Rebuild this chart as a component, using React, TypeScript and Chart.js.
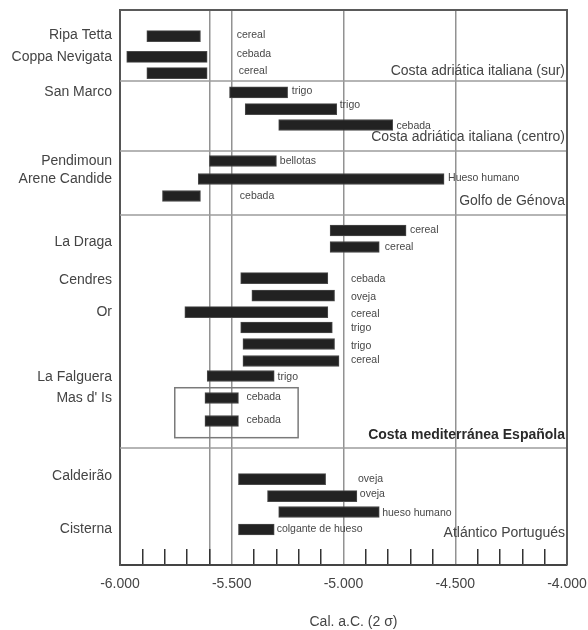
import React, { useEffect, useRef } from 'react';
import { Chart, registerables } from 'chart.js';

Chart.register(...registerables);

const FONT = "'Liberation Sans', Arial, Helvetica, sans-serif";

// Site names (left axis) and their row positions (row units, top = 0)
const siteNames = ['Ripa Tetta', 'Coppa Nevigata', 'San Marco', 'Pendimoun', 'Arene Candide', 'La Draga', 'Cendres', 'Or', 'La Falguera', "Mas d' Is", 'Caldeirão', 'Cisterna'];
const siteRow = [1.49, 2.79, 4.88, 8.98, 10.05, 13.8, 16.05, 17.96, 21.82, 23.07, 27.71, 30.86];

// Dated samples: row, start and end of calibrated range (cal BC, 2 sigma)
const barRow = [1.55, 2.79, 3.75, 4.9, 5.89, 6.84, 8.98, 10.05, 11.06, 13.11, 14.09, 15.94, 16.98, 17.96, 18.88, 19.86, 20.87, 21.76, 23.07, 24.44, 27.89, 28.9, 29.85, 30.89];
const barStart = [-5880, -5970, -5880, -5510, -5440, -5290, -5600, -5650, -5810, -5060, -5060, -5460, -5410, -5710, -5460, -5450, -5450, -5610, -5620, -5620, -5470, -5340, -5290, -5470];
const barEnd = [-5640, -5610, -5610, -5250, -5030, -4780, -5300, -4550, -5640, -4720, -4840, -5070, -5040, -5070, -5050, -5040, -5020, -5310, -5470, -5470, -5080, -4940, -4840, -5310];

// Sample material labels, with their anchor (year) and row
const material = ['cereal', 'cebada', 'cereal', 'trigo', 'trigo', 'cebada', 'bellotas', 'Hueso humano', 'cebada', 'cereal', 'cereal', 'cebada', 'oveja', 'cereal', 'trigo', 'trigo', 'cereal', 'trigo', 'cebada', 'cebada', 'oveja', 'oveja', 'hueso humano', 'colgante de hueso'];
const materialAt = [-5478, -5478, -5469, -5231, -5017, -4763, -5285, -4532, -5464, -4703, -4815, -4967, -4967, -4967, -4967, -4967, -4967, -5295, -5434, -5434, -4935, -4927, -4827, -5299];
const materialRow = [1.49, 2.62, 3.63, 4.82, 5.65, 6.9, 8.98, 9.99, 11.04, 13.08, 14.11, 16.0, 17.05, 18.06, 18.93, 19.96, 20.81, 21.8, 23.03, 24.4, 27.9, 28.8, 29.89, 30.88];

// Regions
const regionNames = ['Costa adriática italiana (sur)', 'Costa adriática italiana (centro)', 'Golfo de Génova', 'Costa mediterránea Española', 'Atlántico Portugués'];
const regionRow = [3.63, 7.55, 11.34, 25.27, 31.12];
const regionBold = [false, false, false, true, false];
const separatorRow = [4.22, 8.38, 12.19, 26.04];

// Mas d'Is box
const boxYears = [-5755, -5203];
const boxRows = [22.46, 25.43];

// Axis
const xMin = -6000;
const xMax = -4000;
const rowMax = 33;
const gridYears = [-5600, -5500, -5000, -4500];
const axisTitle = 'Cal. a.C. (2 σ)';

const overlay = {
  id: 'overlay',
  afterDatasetsDraw(chart: any) {
    const { ctx, chartArea: a, scales } = chart;
    const x = scales.x;
    const y = scales.y;
    ctx.save();
    // region separators
    ctx.strokeStyle = '#9c9c9c';
    ctx.lineWidth = 1.5;
    separatorRow.forEach((r) => {
      const py = y.getPixelForValue(r);
      ctx.beginPath();
      ctx.moveTo(a.left, py);
      ctx.lineTo(a.right, py);
      ctx.stroke();
    });
    // Mas d'Is box
    ctx.strokeStyle = '#7a7a7a';
    const bx0 = x.getPixelForValue(boxYears[0]);
    const bx1 = x.getPixelForValue(boxYears[1]);
    const by0 = y.getPixelForValue(boxRows[0]);
    const by1 = y.getPixelForValue(boxRows[1]);
    ctx.strokeRect(bx0, by0, bx1 - bx0, by1 - by0);
    // frame top and right
    ctx.strokeStyle = '#5a5a5a';
    ctx.lineWidth = 2;
    ctx.beginPath();
    ctx.moveTo(a.left, a.top);
    ctx.lineTo(a.right, a.top);
    ctx.lineTo(a.right, a.bottom);
    ctx.stroke();
    // material labels
    ctx.font = `10.5px ${FONT}`;
    ctx.fillStyle = '#474747';
    ctx.textAlign = 'left';
    ctx.textBaseline = 'middle';
    material.forEach((m, i) => {
      ctx.fillText(m, x.getPixelForValue(materialAt[i]), y.getPixelForValue(materialRow[i]));
    });
    // region titles
    ctx.textAlign = 'right';
    regionNames.forEach((n, i) => {
      ctx.font = `${regionBold[i] ? 'bold ' : ''}14px ${FONT}`;
      ctx.fillStyle = regionBold[i] ? '#2a2a2a' : '#444';
      ctx.fillText(n, a.right - 2, y.getPixelForValue(regionRow[i]));
    });
    // axis title
    ctx.font = `14px ${FONT}`;
    ctx.fillStyle = '#444';
    ctx.textAlign = 'center';
    ctx.fillText(axisTitle, (a.left + a.right) / 2 + 10, a.bottom + 57);
    ctx.restore();
  },
};

export default function App() {
  const ref = useRef<HTMLCanvasElement>(null);
  useEffect(() => {
    document.body.style.margin = '0';
    const chart = new Chart(ref.current as HTMLCanvasElement, {
      type: 'bar',
      data: {
        datasets: [
          {
            data: barRow.map((r, i) => ({ y: r, x: [barStart[i], barEnd[i]] })) as any,
            backgroundColor: '#222222',
            borderColor: '#4a4a4a',
            borderWidth: 1,
            borderSkipped: false,
            barThickness: 11,
          },
        ],
      },
      options: {
        responsive: false,
        animation: false,
        indexAxis: 'y',
        layout: { padding: { top: 10, right: 21, left: 0, bottom: 0 } },
        plugins: {
          legend: { display: false },
          tooltip: { enabled: false },
          title: { display: false },
        },
        scales: {
          x: {
            type: 'linear',
            position: 'bottom',
            min: xMin,
            max: xMax,
            offset: false,
            afterFit: (s: any) => {
              s.height = 65;
              s.paddingLeft = 0;
              s.paddingRight = 0;
            },
            ticks: {
              stepSize: 100,
              maxTicksLimit: 30,
              autoSkip: false,
              maxRotation: 0,
              padding: 27,
              color: '#444',
              font: { family: FONT, size: 14 },
              callback: (v: any) => (Number(v) % 500 === 0 ? (Number(v) / 1000).toFixed(3) : ''),
            },
            grid: {
              drawOnChartArea: true,
              drawTicks: true,
              tickLength: -16,
              lineWidth: 1.5,
              tickWidth: 1.5,
              color: (c: any) => (c.tick && gridYears.includes(c.tick.value) ? '#929292' : 'rgba(0,0,0,0)'),
              tickColor: (c: any) => (c.tick && c.tick.value % 500 !== 0 ? '#333333' : 'rgba(0,0,0,0)'),
            },
            border: { display: true, color: '#444', width: 2 },
          },
          y: {
            type: 'linear',
            min: 0,
            max: rowMax,
            reverse: true,
            offset: false,
            afterFit: (s: any) => {
              s.width = 120;
              s.paddingTop = 0;
              s.paddingBottom = 0;
            },
            afterBuildTicks: (s: any) => {
              s.ticks = siteRow.map((v) => ({ value: v }));
            },
            ticks: {
              autoSkip: false,
              padding: 8,
              color: '#444',
              font: { family: FONT, size: 14 },
              callback: (_v: any, i: number) => siteNames[i],
            },
            grid: { display: false, drawTicks: false },
            border: { display: true, color: '#555', width: 2 },
          },
        },
      } as any,
      plugins: [overlay],
    });
    return () => chart.destroy();
  }, []);
  return (
    <div style={{ width: 588, height: 630 }}>
      <canvas ref={ref} width={588} height={630} style={{ display: 'block' }} />
    </div>
  );
}
